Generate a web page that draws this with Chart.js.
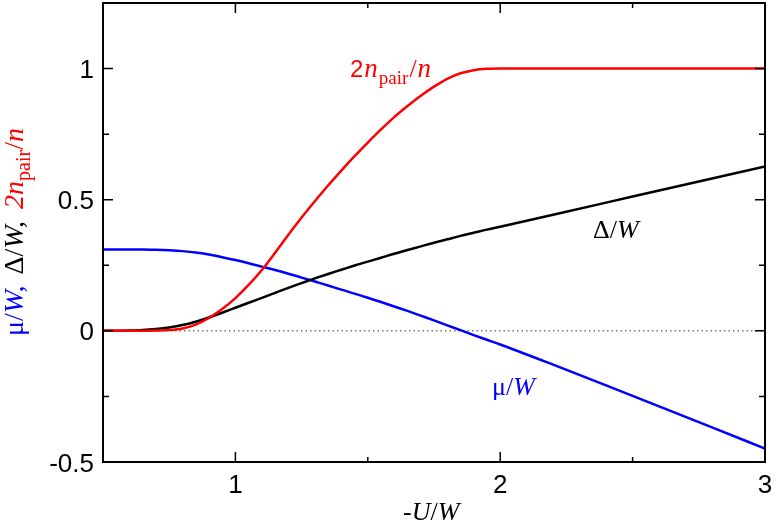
<!DOCTYPE html>
<html>
<head>
<meta charset="utf-8">
<script src="https://cdn.jsdelivr.net/npm/chart.js@4.4.0/dist/chart.umd.min.js"></script>
<style>
  html, body { margin: 0; padding: 0; background: #fff; }
  #wrap { width: 775px; height: 525px; }
</style>
</head>
<body>
<div id="wrap"><canvas id="Chart"></canvas></div>
<script>
// -U/W sample points
const uOverW = [0.5, 0.55, 0.6, 0.65, 0.7, 0.75, 0.8, 0.85, 0.9, 0.95, 1.0, 1.05, 1.1, 1.15,
  1.2, 1.25, 1.3, 1.35, 1.4, 1.45, 1.5, 1.55, 1.6, 1.65, 1.7, 1.75, 1.8, 1.85, 1.9, 1.95, 2.0,
  2.2, 2.4, 2.6, 2.8, 3.0];
// mu/W
const muOverW = [0.31, 0.31, 0.31, 0.31, 0.309, 0.307, 0.304, 0.299, 0.291, 0.281, 0.27, 0.258,
  0.245, 0.232, 0.218, 0.203, 0.188, 0.173, 0.157, 0.142, 0.126, 0.11, 0.093, 0.076, 0.058,
  0.04, 0.021, 0.003, -0.016, -0.034, -0.052, -0.129, -0.208, -0.288, -0.368, -0.449];
// Delta/W
const gapOverW = [0, 0, 0.001, 0.003, 0.007, 0.013, 0.022, 0.035, 0.051, 0.069, 0.088, 0.107,
  0.126, 0.145, 0.164, 0.182, 0.2, 0.217, 0.233, 0.249, 0.264, 0.279, 0.294, 0.308, 0.322,
  0.336, 0.349, 0.362, 0.374, 0.386, 0.397, 0.443, 0.489, 0.535, 0.581, 0.627];
// 2 n_pair / n
const pairFraction = [0, 0, 0, 0, 0.001, 0.003, 0.009, 0.024, 0.049, 0.083, 0.125, 0.175,
  0.232, 0.298, 0.366, 0.432, 0.494, 0.554, 0.611, 0.666, 0.718, 0.768, 0.815, 0.857, 0.896,
  0.931, 0.961, 0.982, 0.994, 0.999, 1.0, 1.0, 1.0, 1.0, 1.0, 1.0];

const xTickLabels = [1, 2, 3];
const yTickLabels = [-0.5, 0, 0.5, 1];

const SANS = "Liberation Sans";
const SERIF = "Liberation Serif";

const toPoints = (ys) => uOverW.map((x, i) => ({ x: x, y: ys[i] }));

function drawRich(ctx, parts, x, y) {
  let cx = x;
  parts.forEach((p) => {
    ctx.font = p.font;
    ctx.fillStyle = p.color;
    ctx.fillText(p.text, cx, y + (p.dy || 0));
    cx += ctx.measureText(p.text).width + (p.gap || 0);
  });
}

const framePlugin = {
  id: "frame",
  afterDraw(chart) {
    const { ctx, chartArea: a, scales } = chart;
    ctx.save();
    ctx.strokeStyle = "#000";
    ctx.lineWidth = 2;
    ctx.strokeRect(a.left, a.top, a.right - a.left, a.bottom - a.top);

    // inward ticks on all four sides
    ctx.lineWidth = 1.5;
    ctx.beginPath();
    scales.x.ticks.forEach((t) => {
      const px = scales.x.getPixelForValue(t.value);
      const len = xTickLabels.includes(t.value) ? 10 : 5;
      ctx.moveTo(px, a.bottom);
      ctx.lineTo(px, a.bottom - len);
      ctx.moveTo(px, a.top);
      ctx.lineTo(px, a.top + len);
    });
    scales.y.ticks.forEach((t) => {
      const py = scales.y.getPixelForValue(t.value);
      const len = yTickLabels.includes(t.value) ? 10 : 6;
      ctx.moveTo(a.left, py);
      ctx.lineTo(a.left + len, py);
      ctx.moveTo(a.right, py);
      ctx.lineTo(a.right - len, py);
    });
    ctx.stroke();

    // tick labels
    ctx.fillStyle = "#000";
    ctx.font = `26px ${SANS}`;
    ctx.textBaseline = "alphabetic";
    ctx.textAlign = "center";
    xTickLabels.forEach((v) => {
      ctx.fillText(String(v), scales.x.getPixelForValue(v), a.bottom + 31);
    });
    ctx.textAlign = "right";
    yTickLabels.forEach((v) => {
      ctx.fillText(String(v), a.left - 9, scales.y.getPixelForValue(v) + 9.5);
    });

    ctx.textAlign = "left";

    // curve labels
    drawRich(ctx, [
      { text: "2", font: `24px ${SANS}`, color: "#ff0000", gap: 1 },
      { text: "n", font: `italic 27px ${SERIF}`, color: "#ff0000", gap: 1 },
      { text: "pair", font: `19px ${SERIF}`, color: "#ff0000", dy: 7, gap: 1 },
      { text: "/", font: `26px ${SERIF}`, color: "#ff0000", gap: 1 },
      { text: "n", font: `italic 27px ${SERIF}`, color: "#ff0000" },
    ], 350, 77);

    drawRich(ctx, [
      { text: "\u0394", font: `26px ${SERIF}`, color: "#000" },
      { text: "/", font: `26px ${SERIF}`, color: "#000" },
      { text: "W", font: `italic 26px ${SERIF}`, color: "#000" },
    ], 593, 238);

    drawRich(ctx, [
      { text: "\u03bc", font: `26px ${SERIF}`, color: "#0000ff" },
      { text: "/", font: `26px ${SERIF}`, color: "#0000ff" },
      { text: "W", font: `italic 26px ${SERIF}`, color: "#0000ff" },
    ], 492, 395);

    // x axis title
    drawRich(ctx, [
      { text: "-", font: `italic 26px ${SERIF}`, color: "#000" },
      { text: "U", font: `italic 26px ${SERIF}`, color: "#000" },
      { text: "/", font: `26px ${SERIF}`, color: "#000" },
      { text: "W", font: `italic 26px ${SERIF}`, color: "#000" },
    ], 403, 520);

    // y axis title (rotated)
    ctx.translate(23, 336);
    ctx.rotate(-Math.PI / 2);
    drawRich(ctx, [
      { text: "\u03bc", font: `28px ${SERIF}`, color: "#0000ff" },
      { text: "/", font: `28px ${SERIF}`, color: "#0000ff" },
      { text: "W,", font: `italic 28px ${SERIF}`, color: "#0000ff", gap: 11 },
      { text: "\u0394", font: `28px ${SERIF}`, color: "#000" },
      { text: "/", font: `28px ${SERIF}`, color: "#000" },
      { text: "W,", font: `italic 28px ${SERIF}`, color: "#000", gap: 12 },
      { text: "2", font: `italic 28px ${SERIF}`, color: "#ff0000" },
      { text: "n", font: `italic 28px ${SERIF}`, color: "#ff0000" },
      { text: "pair", font: `20px ${SERIF}`, color: "#ff0000", dy: 7 },
      { text: "/", font: `28px ${SERIF}`, color: "#ff0000" },
      { text: "n", font: `italic 28px ${SERIF}`, color: "#ff0000" },
    ], 0, 0);
    ctx.restore();
  },
};

const ctx = document.getElementById("Chart");

new Chart(ctx, {
  type: "scatter",
  data: {
    datasets: [
      {
        label: "2n_pair/n",
        data: toPoints(pairFraction),
        borderColor: "#ff0000",
        order: 1,
      },
      {
        label: "Delta/W",
        data: toPoints(gapOverW),
        borderColor: "#000000",
        order: 2,
      },
      {
        label: "mu/W",
        data: toPoints(muOverW),
        borderColor: "#0000ff",
        order: 3,
      },
      {
        label: "zero",
        data: [{ x: 0.5, y: 0 }, { x: 3, y: 0 }],
        borderColor: "#777777",
        borderWidth: 1.5,
        borderDash: [1.5, 3],
        order: 4,
      },
    ],
  },
  options: {
    responsive: true,
    maintainAspectRatio: false,
    animation: false,
    showLine: true,
    layout: { padding: { top: 3, right: 10, left: 0, bottom: 0 } },
    plugins: {
      legend: { display: false },
      tooltip: { enabled: false },
    },
    elements: {
      point: { radius: 0 },
      line: { borderWidth: 2.5, cubicInterpolationMode: "monotone", fill: false },
    },
    scales: {
      x: {
        type: "linear",
        min: 0.5,
        max: 3,
        grid: { display: false },
        border: { display: false },
        ticks: { stepSize: 0.5, display: false },
        afterFit: (s) => {
          s.height = 63;
        },
      },
      y: {
        type: "linear",
        min: -0.5,
        max: 1.25,
        grid: { display: false },
        border: { display: false },
        ticks: { stepSize: 0.25, display: false },
        afterFit: (s) => {
          s.width = 103;
        },
      },
    },
  },
  plugins: [framePlugin],
});
</script>
</body>
</html>
